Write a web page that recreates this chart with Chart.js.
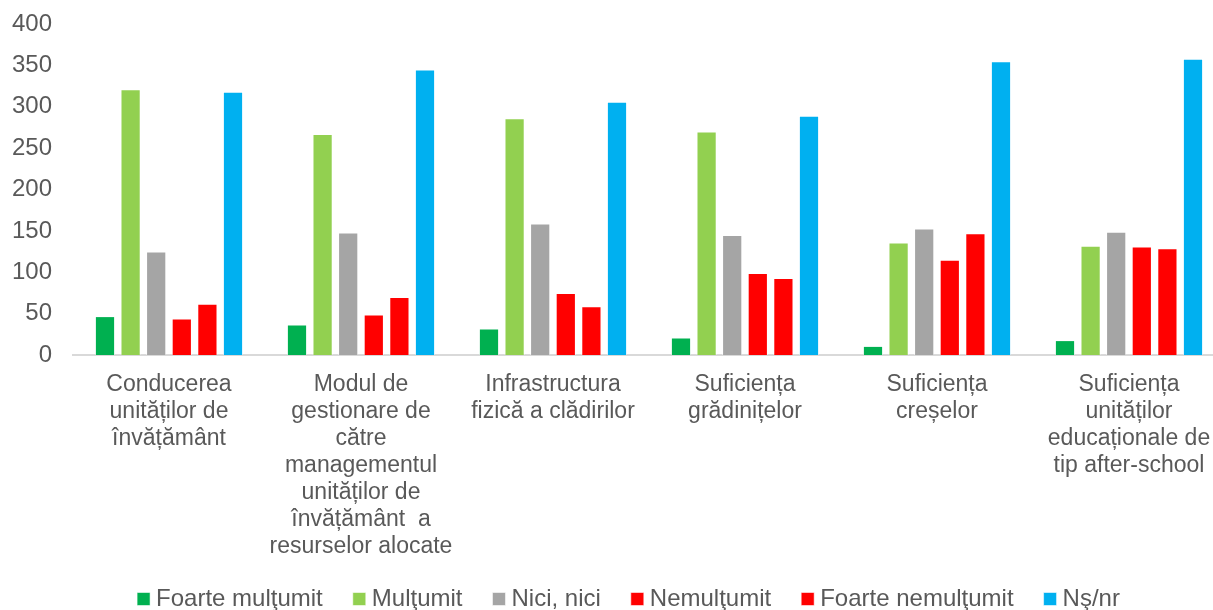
<!DOCTYPE html>
<html>
<head>
<meta charset="utf-8">
<script src="https://cdn.jsdelivr.net/npm/chart.js@4/dist/chart.umd.min.js"></script>
<style>
  html, body { margin: 0; padding: 0; background: #ffffff; overflow: hidden; width: 1213px; height: 610px; }
  #wrap { position: absolute; left: 0; top: 0; width: 1225px; height: 633px; }
</style>
</head>
<body>
<div id="wrap"><canvas id="c" width="1225" height="633"></canvas></div>
<script>
const categories = [
  ["Conducerea", "unităților de", "învățământ"],
  ["Modul de", "gestionare de", "către", "managementul", "unităților de", "învățământ  a", "resurselor alocate"],
  ["Infrastructura", "fizică a clădirilor"],
  ["Suficiența", "grădinițelor"],
  ["Suficiența", "creșelor"],
  ["Suficiența", "unităților", "educaționale de", "tip after-school"]
];
const seriesNames = ["Foarte mulţumit", "Mulţumit", "Nici, nici", "Nemulţumit", "Foarte nemulţumit", "Nş/nr"];
const foarteMultumit    = [47, 37, 32, 21, 11, 18];
const multumit          = [321, 267, 286, 270, 136, 132];
const niciNici          = [125, 148, 159, 145, 153, 149];
const nemultumit        = [44, 49, 75, 99, 115, 131];
const foarteNemultumit  = [62, 70, 59, 93, 147, 129];
const nsNr              = [318, 345, 306, 289, 355, 358];
const yTicks = [0, 50, 100, 150, 200, 250, 300, 350, 400];

const seriesValues = [foarteMultumit, multumit, niciNici, nemultumit, foarteNemultumit, nsNr];
const seriesColors = ["#00B050", "#92D050", "#A5A5A5", "#FF0000", "#FF0000", "#00B0F0"];

// nudge the legend box to the reference position
const legendShift = {
  id: 'legendShift',
  afterLayout(chart) {
    const L = chart.legend;
    if (L) { L.left += 13; L.right += 13; L.top -= 12; L.bottom -= 12; }
  }
};

new Chart(document.getElementById('c'), {
  type: 'bar',
  data: {
    labels: categories,
    datasets: seriesNames.map((name, i) => ({
      label: name,
      data: seriesValues[i],
      backgroundColor: seriesColors[i],
      borderColor: 'rgba(255,255,255,0.55)',
      borderWidth: 1,
      categoryPercentage: 0.8,
      barPercentage: 0.79
    }))
  },
  plugins: [legendShift],
  options: {
    responsive: false,
    animation: false,
    layout: { padding: { top: 24, left: 12, right: 0, bottom: 0 } },
    plugins: {
      tooltip: { enabled: false },
      legend: {
        position: 'bottom',
        labels: {
          usePointStyle: true,
          pointStyle: 'rect',
          boxWidth: 1,
          boxHeight: 13,
          padding: 36,
          color: '#595959',
          font: { family: 'Liberation Sans, Arial, sans-serif', size: 24 }
        }
      }
    },
    scales: {
      x: {
        grid: { display: false, drawTicks: false },
        border: { display: true, color: '#D9D9D9', width: 2 },
        ticks: {
          color: '#595959',
          padding: 16.5,
          maxRotation: 0,
          autoSkip: false,
          font: { family: 'Liberation Sans, Arial, sans-serif', size: 23, lineHeight: 1.174 }
        },
        afterFit(scale) { scale.height = 208; scale.paddingLeft = 0; scale.paddingRight = 0; }
      },
      y: {
        min: 0,
        max: 400,
        grid: { display: false, drawTicks: false },
        border: { display: false },
        afterBuildTicks(scale) { scale.ticks = yTicks.map(v => ({ value: v })); },
        ticks: {
          color: '#595959',
          padding: 21,
          font: { family: 'Liberation Sans, Arial, sans-serif', size: 24 }
        },
        afterFit(scale) { scale.width = 61; scale.paddingTop = 0; scale.paddingBottom = 0; }
      }
    }
  }
});
</script>
</body>
</html>
